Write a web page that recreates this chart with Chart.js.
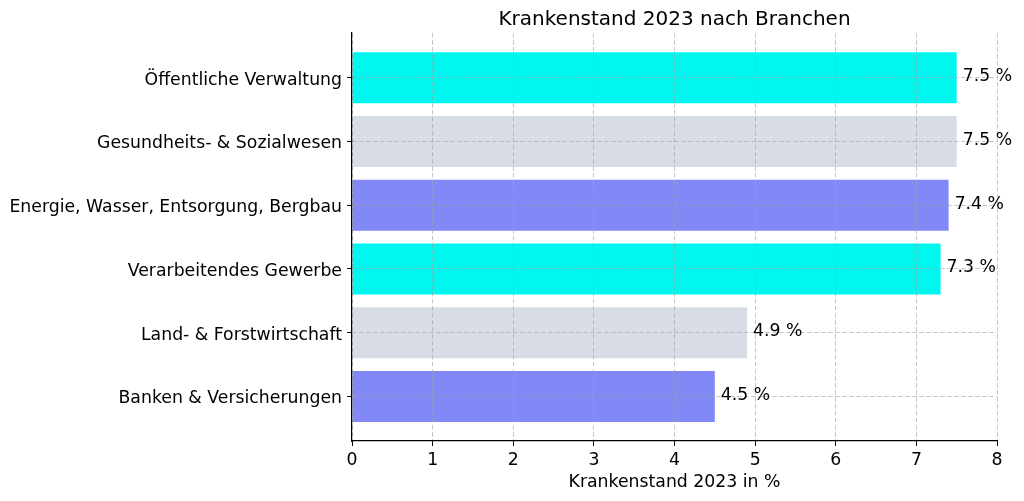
<!DOCTYPE html>
<html>
<head>
<meta charset="utf-8">
<script src="https://cdn.jsdelivr.net/npm/chart.js@4/dist/chart.umd.min.js"></script>
<style>
html,body{margin:0;padding:0;background:#fff;}
#wrap{width:1024px;height:501px;position:relative;}
</style>
</head>
<body>
<div id="wrap"><canvas id="c" width="1024" height="501"></canvas></div>
<script>
const categories = [
  "Öffentliche Verwaltung",
  "Gesundheits- & Sozialwesen",
  "Energie, Wasser, Entsorgung, Bergbau",
  "Verarbeitendes Gewerbe",
  "Land- & Forstwirtschaft",
  "Banken & Versicherungen"
];
const values = [7.5, 7.5, 7.4, 7.3, 4.9, 4.5];
const barColors = ["#00F7EF", "#D8DCE5", "#8289F6", "#00F7EF", "#D8DCE5", "#8289F6"];
const xTickValues = [0, 1, 2, 3, 4, 5, 6, 7, 8];
const titleText = "Krankenstand 2023 nach Branchen";
const xTitleText = "Krankenstand 2023 in %";

const FONT = "'DejaVu Sans', sans-serif";
const FS = 17.3;
Chart.defaults.font.family = FONT;
Chart.defaults.font.size = FS;
Chart.defaults.color = "#000";

const gridColor = "rgba(160,160,160,0.6)";

const valueLabels = {
  id: "valueLabels",
  afterDraw(chart) {
    const ctx = chart.ctx;
    const meta = chart.getDatasetMeta(0);
    ctx.save();
    ctx.font = FS + "px " + FONT;
    ctx.fillStyle = "#000";
    ctx.textAlign = "left";
    ctx.textBaseline = "middle";
    meta.data.forEach((bar, i) => {
      ctx.fillText(values[i].toFixed(1) + " %", bar.x + 6, bar.y - 1);
    });
    // chart title centred over the plot area
    const a = chart.chartArea;
    ctx.font = "20px " + FONT;
    ctx.textAlign = "center";
    ctx.fillText(titleText, (a.left + a.right) / 2, 19.5);
    ctx.restore();
  }
};

new Chart(document.getElementById("c"), {
  type: "bar",
  data: {
    datasets: [{
      data: values.map((v, i) => ({ x: v, y: i })),
      backgroundColor: barColors,
      borderWidth: 0,
      categoryPercentage: 0.8,
      barPercentage: 1.0
    }]
  },
  options: {
    indexAxis: "y",
    responsive: false,
    animation: false,
    devicePixelRatio: 1,
    layout: { padding: { left: 0, right: 27, top: 33, bottom: 0 } },
    plugins: {
      legend: { display: false },
      tooltip: { enabled: false },
      title: { display: false }
    },
    scales: {
      x: {
        type: "linear",
        position: "bottom",
        min: 0,
        max: 8,
        offset: false,
        afterBuildTicks(scale) {
          scale.ticks = xTickValues.map(v => ({ value: v }));
        },
        afterFit(scale) { scale.height = 60; },
        ticks: { padding: 4, color: "#000", font: { size: FS } },
        grid: {
          color: gridColor,
          lineWidth: 1,
          z: 1,
          offset: false,
          drawTicks: true,
          tickLength: 5,
          tickColor: "#000",
          tickWidth: 1,
          tickBorderDash: []
        },
        border: { display: true, color: "#000", width: 1.2, dash: [4.5, 2.5], z: 2 },
        title: {
          display: true,
          text: xTitleText,
          color: "#000",
          font: { size: FS },
          padding: { top: 0, bottom: 8 }
        }
      },
      y: {
        type: "linear",
        position: "left",
        reverse: true,
        min: -0.7,
        max: 5.7,
        offset: false,
        afterBuildTicks(scale) {
          scale.ticks = categories.map((c, i) => ({ value: i }));
        },
        afterFit(scale) { scale.width = 352; },
        ticks: {
          padding: 5,
          labelOffset: 2.5,
          color: "#000",
          font: { size: FS },
          callback: (v) => categories[v] !== undefined ? categories[v] : ""
        },
        grid: {
          color: gridColor,
          lineWidth: 1,
          z: 1,
          offset: false,
          drawTicks: true,
          tickLength: 5,
          tickColor: "#000",
          tickWidth: 1,
          tickBorderDash: []
        },
        border: { display: true, color: "#000", width: 1.2, dash: [4.5, 2.5], z: 2 }
      }
    }
  },
  plugins: [valueLabels]
});
</script>
</body>
</html>
